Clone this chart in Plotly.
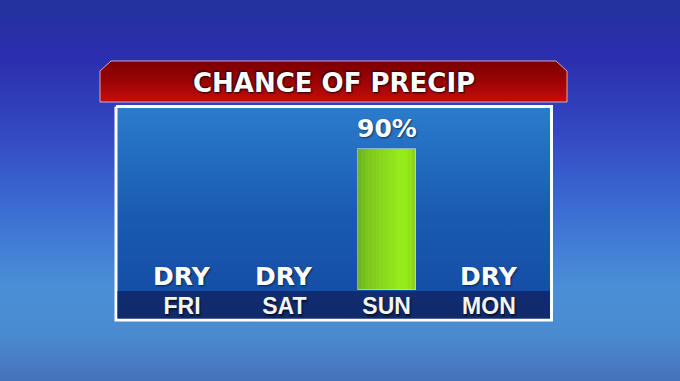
import plotly.graph_objects as go

# ---- data ----
days = ["FRI", "SAT", "SUN", "MON"]
precip_pct = [0, 0, 90, 0]
title_text = "CHANCE OF PRECIP"

W, H = 680, 381

def hex2rgb(h):
    h = h.lstrip('#')
    return tuple(int(h[i:i + 2], 16) for i in (0, 2, 4))

def interp(stops, t):
    for (t0, c0), (t1, c1) in zip(stops[:-1], stops[1:]):
        if t0 <= t <= t1:
            f = 0 if t1 == t0 else (t - t0) / (t1 - t0)
            a, b = hex2rgb(c0), hex2rgb(c1)
            return 'rgb(%d,%d,%d)' % tuple(round(a[k] + (b[k] - a[k]) * f) for k in range(3))
    return stops[-1][1]

fig = go.Figure()

# ---------- decoration layer (pixel coordinates, subplot xy) ----------
def poly(xs, ys, scale, line=None, lw=0):
    fig.add_trace(go.Scatter(
        x=xs + [xs[0]], y=ys + [ys[0]], mode='lines', fill='toself',
        fillgradient=dict(type='vertical', colorscale=scale,
                          start=min(ys), stop=max(ys)),
        line=dict(color=line or 'rgba(0,0,0,0)', width=lw),
        hoverinfo='skip', showlegend=False, xaxis='x', yaxis='y'))

# background
poly([0, W, W, 0], [0, 0, H, H],
     [[0, '#23329c'], [0.15, '#2b2eae'], [0.35, '#3448c2'], [0.55, '#3c6dd2'],
      [0.75, '#4a8fd6'], [0.88, '#4a8bd0'], [1, '#4671ba']])
# header
poly([100, 100, 111, 556, 567, 567], [102, 71, 61, 61, 71, 102],
     [[0, '#7a0000'], [0.5, '#9c0404'], [1, '#c60d0d']],
     line='rgba(255,210,210,0.75)', lw=1)
# panel
poly([116, 551.5, 551.5, 116], [106.5, 106.5, 320, 320],
     [[0, '#2b7ccc'], [0.5, '#1a5bb2'], [1, '#134aa3']],
     line='#ffffff', lw=3)
# bottom band
poly([117.5, 550, 550, 117.5], [291, 291, 318.5, 318.5],
     [[0, '#112c72'], [1, '#102a6a']])

# ---------- data layer (subplot x2y2) ----------
xpos = list(range(len(days)))
bw = 0.567
fig.add_trace(go.Bar(x=xpos, y=precip_pct, width=bw,
                     marker=dict(color='#8cd81d', line=dict(width=0)),
                     xaxis='x2', yaxis='y2', hoverinfo='skip', showlegend=False))
bar_shade = [(0, '#6cb022'), (0.12, '#79c21f'), (0.35, '#86d21e'), (0.55, '#8fdf1c'),
             (0.75, '#99ed1a'), (0.88, '#95e61b'), (1, '#86d01d')]
N = 16
for i in range(N):
    t = (i + 0.5) / N
    fig.add_trace(go.Bar(x=xpos, y=precip_pct, width=bw / N + 0.002,
                         offset=-bw / 2 + i * bw / N,
                         marker=dict(color=interp(bar_shade, t), line=dict(width=0)),
                         xaxis='x2', yaxis='y2', hoverinfo='skip', showlegend=False))
# thin outline only on bars that have height
fig.add_trace(go.Bar(x=xpos, y=[v if v > 0 else None for v in precip_pct], width=bw,
                     marker=dict(color='rgba(0,0,0,0)',
                                 line=dict(width=1, color='rgba(210,225,200,0.6)')),
                     xaxis='x2', yaxis='y2', hoverinfo='skip', showlegend=False))

label_font = dict(family='DejaVu Sans', size=25, color='white', weight='bold',
                  shadow='1px 1px 2px rgba(0,0,0,0.55)')
annotations = []
for i, v in enumerate(precip_pct):
    annotations.append(dict(
        x=i, y=v, xref='x2', yref='y2', text='DRY' if v == 0 else f'{v}%',
        showarrow=False, yanchor='bottom', yshift=-3 if v == 0 else 4,
        font=label_font))
annotations.append(dict(
    x=333.5 / W, y=1 - 83 / H, xref='paper', yref='paper', text=title_text,
    showarrow=False, xanchor='center', yanchor='middle',
    font=dict(family='DejaVu Sans', size=26, color='white', weight='bold',
              shadow='1px 1px 2px #200000, -1px -1px 2px #300000')))

fig.update_layout(
    width=W, height=H, margin=dict(l=0, r=0, t=0, b=0),
    paper_bgcolor='#3a5fc8', plot_bgcolor='rgba(0,0,0,0)',
    barmode='overlay', bargap=0, showlegend=False,
    xaxis=dict(domain=[0, 1], range=[0, W], visible=False, fixedrange=True),
    yaxis=dict(domain=[0, 1], range=[H, 0], visible=False, fixedrange=True),
    xaxis2=dict(domain=[118 / W, 550 / W], range=[-0.6256, 3.597], anchor='y2',
                tickvals=xpos, ticktext=days, showgrid=False,
                zeroline=False, showline=False, ticks='', fixedrange=True,
                tickfont=dict(family='Liberation Sans', size=23, color='#f4f4f4',
                              weight='bold', shadow='1px 2px 2px rgba(0,0,0,0.65)')),
    yaxis2=dict(domain=[91 / H, 273 / H], range=[0, 116.2], anchor='x2',
                visible=False, fixedrange=True),
    annotations=annotations,
)

fig.write_html("out.html")
